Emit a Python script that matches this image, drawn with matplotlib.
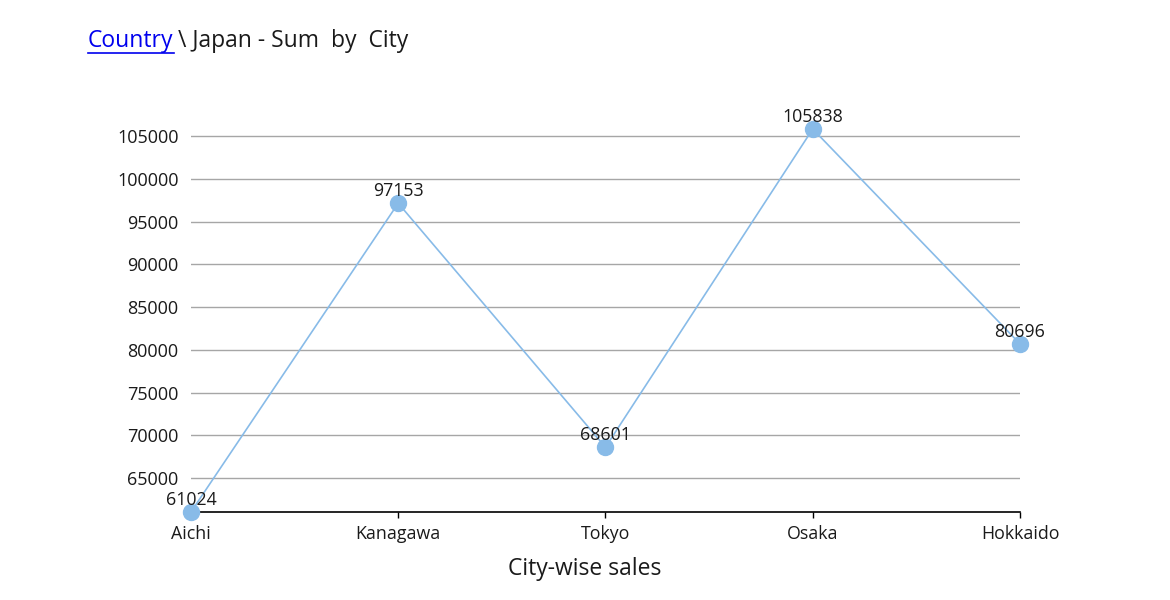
import matplotlib
matplotlib.use("Agg")
import matplotlib.pyplot as plt
from matplotlib.lines import Line2D

# data
cities = ["Aichi", "Kanagawa", "Tokyo", "Osaka", "Hokkaido"]
sales = [61024, 97153, 68601, 105838, 80696]
yticks = [65000, 70000, 75000, 80000, 85000, 90000, 95000, 100000, 105000]

plt.rcParams['font.family'] = ['Open Sans', 'DejaVu Sans']

fig = plt.figure(figsize=(11.7, 6), dpi=100)
ax = fig.add_axes([0.1632, 0.1467, 0.7086, 0.6383])

col = '#88bbe8'
pos = list(range(len(cities)))
ax.plot(pos, sales, color=col, lw=1.2, marker='o', markersize=11.5,
        markerfacecolor=col, markeredgecolor=col, clip_on=False, zorder=3)

for x, v in zip(pos, sales):
    ax.annotate(str(v), (x, v), xytext=(0, 2), textcoords='offset points',
                ha='center', va='bottom', fontsize=12.8, color='#1a1a1a', zorder=4)

ax.set_xlim(0, len(cities) - 1)
ax.set_ylim(min(sales), max(sales))
ax.set_yticks(yticks)
ax.set_yticklabels([str(t) for t in yticks])
ax.set_xticks(pos)
ax.set_xticklabels(cities)
ax.grid(axis='y', color='#a6a6a6', lw=1)
ax.set_axisbelow(True)

for s in ['top', 'right', 'left']:
    ax.spines[s].set_visible(False)
ax.spines['bottom'].set_color('black')
ax.spines['bottom'].set_linewidth(1.2)
ax.tick_params(axis='y', length=0, pad=9, labelsize=13, labelcolor='#1a1a1a')
ax.tick_params(axis='x', length=4.5, width=1, color='black', pad=5, labelsize=12.8,
               labelcolor='#1a1a1a')

# x label is centred on the figure, not on the plot area
fig.text(0.5, 1 - 569 / 600, 'City-wise sales', fontsize=16.5, ha='center',
         va='center', color='#1a1a1a')

# breadcrumb title
t1 = fig.text(88 / 1170, 1 - 47 / 600, 'Country', color='#0000ee', fontsize=16.5,
              va='baseline')
fig.canvas.draw()
bb = t1.get_window_extent()
fig.add_artist(Line2D([bb.x0 / 1170, bb.x1 / 1170], [1 - 53 / 600, 1 - 53 / 600],
                      color='#0000ee', lw=1.2, transform=fig.transFigure))
fig.text(bb.x1 / 1170 + 4 / 1170, 1 - 47 / 600, '\\ Japan - Sum  by  City',
         color='#1a1a1a', fontsize=16.5, va='baseline')

fig.savefig('out.png', dpi=100)
